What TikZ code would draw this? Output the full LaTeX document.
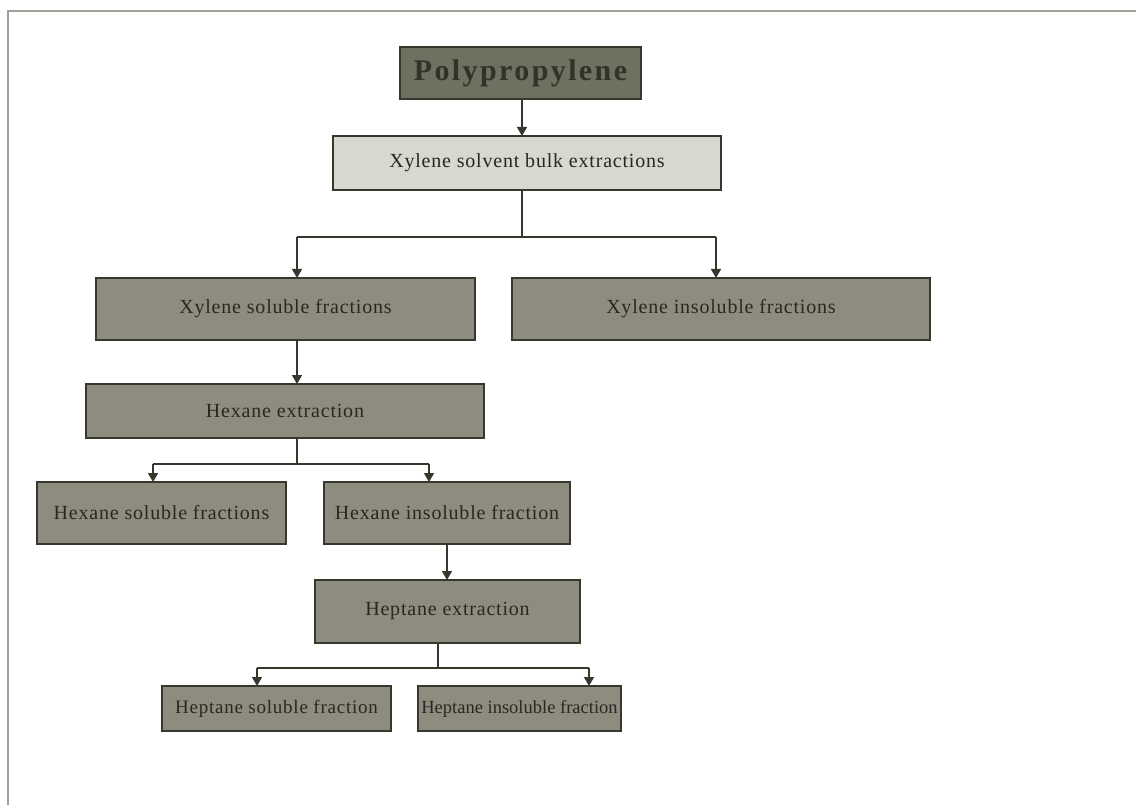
\documentclass[tikz,border=0pt]{standalone}
\usepackage{fontspec}
\setmainfont{Liberation Serif}
\usetikzlibrary{arrows.meta}
\definecolor{boxfill}{RGB}{142,140,127}
\definecolor{topfill}{RGB}{112,112,96}
\definecolor{lightfill}{RGB}{216,216,209}
\definecolor{edge}{RGB}{55,55,45}
\definecolor{txt}{RGB}{40,40,35}
\definecolor{framecol}{RGB}{160,160,150}
\tikzset{
  box/.style={draw=edge, line width=1.6pt, fill=boxfill, inner sep=0pt, outer sep=0pt,
    text=txt, font=\fontsize{20}{22}\selectfont\addfontfeature{LetterSpace=4}, anchor=center},
  smallbox/.style={box, font=\fontsize{19}{21}\selectfont\addfontfeature{LetterSpace=4}},
  tinybox/.style={box, font=\fontsize{18.5}{21}\selectfont},
  conn/.style={draw=edge, line width=1.6pt},
  arr/.style={conn, -{Triangle[width=10pt,length=9pt]}}
}
\begin{document}
\begin{tikzpicture}[x=1pt,y=-1pt]
\useasboundingbox (0,0) rectangle (1136,805);
\fill[white] (0,0) rectangle (1136,805);
\draw[framecol, line width=1.5pt] (8,805) -- (8,11) -- (1136,11);

\node[box, fill=topfill, minimum width=241, minimum height=52,
  font=\bfseries\fontsize{30}{32}\selectfont\addfontfeature{LetterSpace=8}, text={rgb,255:red,50;green,50;blue,40}] (poly) at (520.5,73) {Polypropylene};
\node[box, fill=lightfill, minimum width=388, minimum height=54] (xsb) at (527,163) {Xylene solvent bulk extractions};
\node[box, minimum width=379, minimum height=62] (xs) at (285.5,309) {Xylene soluble fractions};
\node[box, minimum width=418, minimum height=62] (xi) at (721,309) {Xylene insoluble fractions};
\node[box, minimum width=398, minimum height=54] (he) at (285,411) {Hexane extraction};
\node[box, minimum width=249, minimum height=62] (hs) at (161.5,513) {Hexane soluble fractions};
\node[box, minimum width=246, minimum height=62] (hi) at (447,513) {Hexane insoluble fraction};
\node[box, minimum width=265, minimum height=63] (pe) at (447.5,611.5) {Heptane extraction};
\node[smallbox, minimum width=229, minimum height=45] (ps) at (276.5,708.5) {Heptane soluble fraction};
\node[tinybox, minimum width=203, minimum height=45] (pi) at (519.5,708.5) {Heptane insoluble fraction};

% connectors
\draw[arr] (poly.south -| 522,0) -- (xsb.north -| 522,0);

\coordinate (b1) at (522,237);
\coordinate (b1l) at (297,237);
\coordinate (b1r) at (716,237);
\draw[conn] (xsb.south -| b1) -- (b1);
\draw[conn] (b1l) -- (b1r);
\draw[arr] (b1l) -- (b1l |- xs.north);
\draw[arr] (b1r) -- (b1r |- xi.north);

\draw[arr] (xs.south -| b1l) -- (he.north -| b1l);

\coordinate (b2) at (297,464);
\coordinate (b2l) at (153,464);
\coordinate (b2r) at (429,464);
\draw[conn] (he.south -| b2) -- (b2);
\draw[conn] (b2l) -- (b2r);
\draw[arr] (b2l) -- (b2l |- hs.north);
\draw[arr] (b2r) -- (b2r |- hi.north);

\draw[arr] (hi.south) -- (pe.north -| hi.south);

\coordinate (b3) at (438,668);
\coordinate (b3l) at (257,668);
\coordinate (b3r) at (589,668);
\draw[conn] (pe.south -| b3) -- (b3);
\draw[conn] (b3l) -- (b3r);
\draw[arr] (b3l) -- (b3l |- ps.north);
\draw[arr] (b3r) -- (b3r |- pi.north);
\end{tikzpicture}
\end{document}
